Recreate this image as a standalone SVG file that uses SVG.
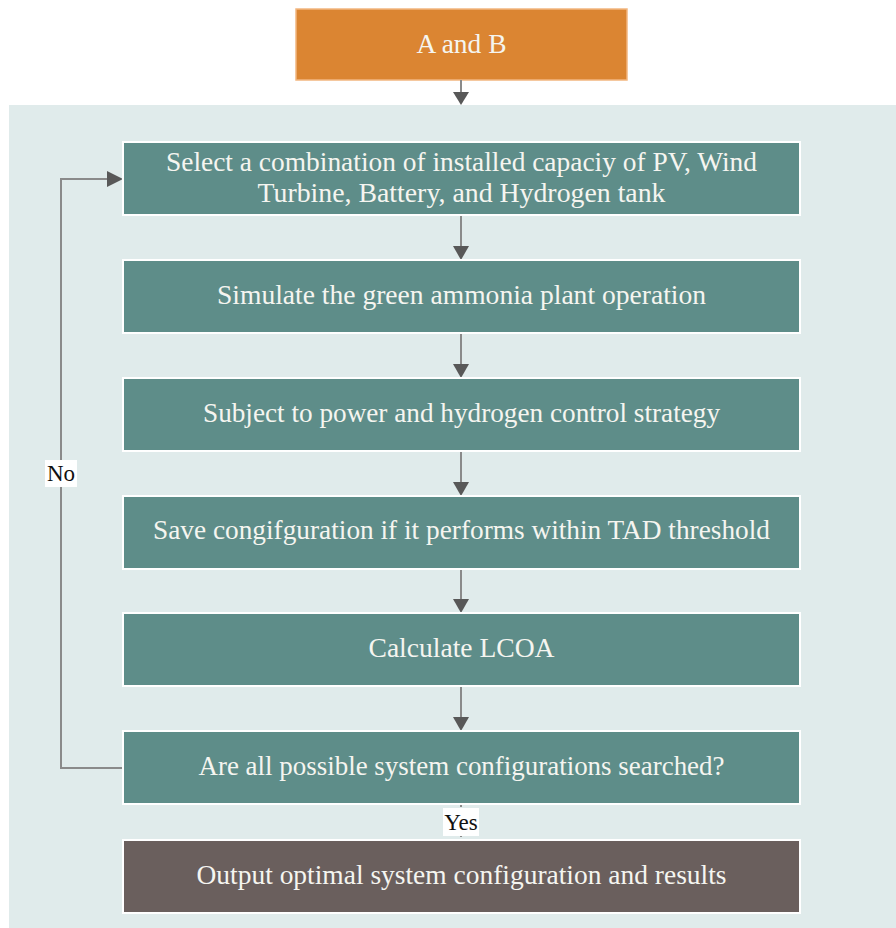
<svg xmlns="http://www.w3.org/2000/svg" width="896" height="928" viewBox="0 0 896 928">
  <defs>
    <style>
      .step { fill: #5E8D89; stroke: #FFFFFF; stroke-width: 2; }
      .start { fill: #DB8532; stroke: #F2B680; stroke-width: 1.5; }
      .final { fill: #6A5F5D; stroke: #FFFFFF; stroke-width: 2; }
      .lbl { font-family: "Liberation Serif", "Times New Roman", serif; font-size: 26.5px; fill: #F5F5F0; text-anchor: middle; }
      .tag { font-family: "Liberation Serif", "Times New Roman", serif; font-size: 23px; fill: #111111; text-anchor: middle; }
      .edge { stroke: #8A8A8A; stroke-width: 2; fill: none; }
      .head { fill: #585858; }
    </style>
  </defs>

  <rect x="0" y="0" width="896" height="928" fill="#FFFFFF"/>
  <!-- shaded workflow panel -->
  <rect x="9" y="105" width="887" height="823" fill="#E0EBEB"/>

  <g id="start">
    <rect class="start" x="296" y="9" width="331" height="71"/>
    <text class="lbl" x="461.5" y="53" textLength="90" lengthAdjust="spacingAndGlyphs">A and B</text>
  </g>

  <g id="connectors">
    <!-- start to panel -->
    <line class="edge" x1="461" y1="80" x2="461" y2="93"/>
    <polygon class="head" points="453,92 469,92 461,105"/>
    <!-- straight steps -->
    <line class="edge" x1="461" y1="215" x2="461" y2="248"/>
    <polygon class="head" points="453,246 469,246 461,260"/>
    <line class="edge" x1="461" y1="333" x2="461" y2="366"/>
    <polygon class="head" points="453,364 469,364 461,378"/>
    <line class="edge" x1="461" y1="451" x2="461" y2="484"/>
    <polygon class="head" points="453,482 469,482 461,496"/>
    <line class="edge" x1="461" y1="569" x2="461" y2="601"/>
    <polygon class="head" points="453,599 469,599 461,613"/>
    <line class="edge" x1="461" y1="686" x2="461" y2="719"/>
    <polygon class="head" points="453,717 469,717 461,731"/>
    <!-- Yes branch -->
    <line class="edge" x1="461" y1="804" x2="461" y2="840" stroke-dasharray="3 2"/>
    <rect x="443" y="808" width="36" height="28" fill="#FFFFFF"/>
    <text class="tag" x="461" y="830">Yes</text>
    <!-- No loop back -->
    <polyline class="edge" points="123,768 61,768 61,179 109,179"/>
    <polygon class="head" points="107,171 107,187 123,179"/>
    <rect x="45" y="460" width="32" height="27" fill="#FFFFFF"/>
    <text class="tag" x="61" y="481">No</text>
  </g>

  <g id="select">
    <rect class="step" x="123" y="142" width="677" height="73"/>
    <text class="lbl" x="461.5" y="171" textLength="591" lengthAdjust="spacingAndGlyphs">Select a combination of installed capaciy of PV, Wind</text>
    <text class="lbl" x="461.5" y="202" textLength="408" lengthAdjust="spacingAndGlyphs">Turbine, Battery, and Hydrogen tank</text>
  </g>

  <g id="simulate">
    <rect class="step" x="123" y="260" width="677" height="73"/>
    <text class="lbl" x="461.5" y="304" textLength="489" lengthAdjust="spacingAndGlyphs">Simulate the green ammonia plant operation</text>
  </g>

  <g id="control">
    <rect class="step" x="123" y="378" width="677" height="73"/>
    <text class="lbl" x="461.5" y="422" textLength="517" lengthAdjust="spacingAndGlyphs">Subject to power and hydrogen control strategy</text>
  </g>

  <g id="save">
    <rect class="step" x="123" y="496" width="677" height="73"/>
    <text class="lbl" x="461.5" y="539" textLength="617" lengthAdjust="spacingAndGlyphs">Save congifguration if it performs within TAD threshold</text>
  </g>

  <g id="lcoa">
    <rect class="step" x="123" y="613" width="677" height="73"/>
    <text class="lbl" x="461.5" y="657" textLength="186" lengthAdjust="spacingAndGlyphs">Calculate LCOA</text>
  </g>

  <g id="check">
    <rect class="step" x="123" y="731" width="677" height="73"/>
    <text class="lbl" x="461.5" y="775" textLength="526" lengthAdjust="spacingAndGlyphs">Are all possible system configurations searched?</text>
  </g>

  <g id="output">
    <rect class="final" x="123" y="840" width="677" height="73"/>
    <text class="lbl" x="461.5" y="884" textLength="530" lengthAdjust="spacingAndGlyphs">Output optimal system configuration and results</text>
  </g>
</svg>
